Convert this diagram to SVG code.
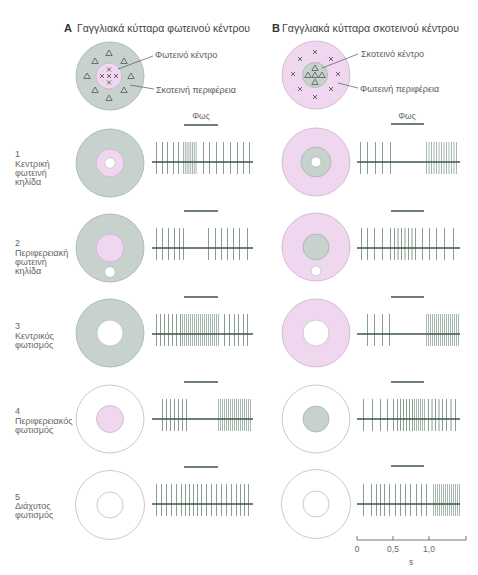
<svg xmlns="http://www.w3.org/2000/svg" width="478" height="575" viewBox="0 0 478 575">
<style>
text{font-family:"Liberation Sans",Arial,sans-serif;fill:#555}
.hd{font-size:10.5px;fill:#444}
.hb{font-size:11px;font-weight:bold;fill:#333}
.lb{font-size:9px;fill:#5a5a5a}
.rl{font-size:9px;fill:#666}
.sm{font-size:8.5px;fill:#666}
.gr{fill:#c6d2cb;stroke:#a4b4aa;stroke-width:0.8}
.pk{fill:#efd8ef;stroke:#cdb0cb;stroke-width:0.8}
.wh{fill:#fff;stroke:#a9b6ae;stroke-width:0.6}
.ol{fill:none;stroke:#cbbfc9;stroke-width:0.9}
.sp{fill:none;stroke:#7b9385;stroke-width:0.9}
.dn{fill:none;stroke:#8ea497;stroke-width:0.8}
.bl{fill:none;stroke:#3e5649;stroke-width:1.6}
.lt{fill:none;stroke:#3e5649;stroke-width:1.6}
.tri{fill:none;stroke:#555;stroke-width:0.8}
.xm{fill:none;stroke:#444;stroke-width:0.8}
.ld{fill:none;stroke:#555;stroke-width:0.7}
.sc{fill:none;stroke:#555;stroke-width:0.8}
</style>
<defs>
<polygon id="tr" points="0,-3 3.2,2.5 -3.2,2.5" class="tri"/>
<path id="xm" d="M-2,-2L2,2M2,-2L-2,2" class="xm"/>
</defs>

<g id="header-a"><text class="hb" x="64" y="31.5">A</text><text class="hd" x="77" y="31.5" textLength="173" lengthAdjust="spacingAndGlyphs">Γαγγλιακά κύτταρα φωτεινού κέντρου</text></g>
<g id="header-b"><text class="hb" x="272" y="31.5">B</text><text class="hd" x="282" y="31.5" textLength="177" lengthAdjust="spacingAndGlyphs">Γαγγλιακά κύτταρα σκοτεινού κέντρου</text></g>

<g id="rf-a">
<circle class="gr" cx="110" cy="76" r="34"/>
<circle class="pk" cx="109" cy="76" r="13"/>
<use href="#tr" x="109" y="53"/><use href="#tr" x="95" y="61"/><use href="#tr" x="124" y="61"/><use href="#tr" x="87" y="76"/><use href="#tr" x="131" y="76"/><use href="#tr" x="95" y="90"/><use href="#tr" x="124" y="90"/><use href="#tr" x="109" y="98"/>
<use href="#xm" x="109" y="69.5"/><use href="#xm" x="102" y="76"/><use href="#xm" x="109" y="76"/><use href="#xm" x="116" y="76"/><use href="#xm" x="109" y="82.5"/>
</g>
<g id="label-a1"><text class="lb" x="155" y="58">Φωτεινό κέντρο</text></g>
<g id="label-a2"><text class="lb" x="156" y="93">Σκοτεινή περιφέρεια</text></g>

<g id="rf-b">
<circle class="pk" cx="316" cy="75" r="34"/>
<circle class="gr" cx="315" cy="75" r="12.5"/>
<use href="#tr" x="315" y="68"/><use href="#tr" x="308" y="75"/><use href="#tr" x="315" y="75"/><use href="#tr" x="322" y="75"/><use href="#tr" x="315" y="82"/>
<use href="#xm" x="315" y="52"/><use href="#xm" x="300" y="59"/><use href="#xm" x="331" y="59"/><use href="#xm" x="293" y="74"/><use href="#xm" x="338" y="74"/><use href="#xm" x="300" y="89"/><use href="#xm" x="331" y="89"/><use href="#xm" x="315" y="97"/>
</g>
<g id="label-b1"><text class="lb" x="361" y="57">Σκοτεινό κέντρο</text></g>
<g id="label-b2"><text class="lb" x="360" y="92">Φωτεινή περιφέρεια</text></g>

<g id="connectors">
<path class="ld" d="M118 69 L153 56"/>
<path class="ld" d="M130 85 L154 89"/>
<path class="ld" d="M322 68 L358 54"/>
<path class="ld" d="M338 83 L358 88"/>
</g>

<g id="light-labels"><text class="sm" x="201" y="119" text-anchor="middle">Φως</text><text class="sm" x="407" y="119" text-anchor="middle">Φως</text></g>

<g id="row-labels">
<text class="rl" x="15" y="157">1</text><text class="rl" x="15" y="167">Κεντρική</text><text class="rl" x="15" y="176">φωτεινή</text><text class="rl" x="15" y="185">κηλίδα</text>
<text class="rl" x="15" y="246">2</text><text class="rl" x="15" y="256">Περιφερειακή</text><text class="rl" x="15" y="265">φωτεινή</text><text class="rl" x="15" y="274">κηλίδα</text>
<text class="rl" x="15" y="329">3</text><text class="rl" x="15" y="339">Κεντρικός</text><text class="rl" x="15" y="348">φωτισμός</text>
<text class="rl" x="15" y="414">4</text><text class="rl" x="15" y="424">Περιφερειακός</text><text class="rl" x="15" y="433">φωτισμός</text>
<text class="rl" x="15" y="500">5</text><text class="rl" x="15" y="509">Διάχυτος</text><text class="rl" x="15" y="518">φωτισμός</text>
</g>

<!-- Row 1 -->
<g id="row1-a">
<circle class="gr" cx="110" cy="163" r="34"/><circle class="pk" cx="110" cy="163" r="14"/><circle class="wh" cx="110" cy="163" r="5.3"/>
<path class="lt" d="M184 125H218"/>
<path class="sp" d="M156.5 142v32M162.5 142v32M167.5 142v32M173.5 142v32M178.5 142v32M203.5 142v32M209.5 142v32M216.5 142v32M223.5 142v32M230.5 142v32M237.5 142v32M243.5 142v32M249.5 142v32"/>
<path class="dn" d="M183.5 142v32M185.3 142v32M187.1 142v32M188.9 142v32M190.7 142v32M192.5 142v32M194.3 142v32M196.1 142v32"/>
<path class="bl" d="M152 162H253"/>
</g>
<g id="row1-b">
<circle class="pk" cx="316" cy="162" r="34"/><circle class="gr" cx="316" cy="162" r="15"/><circle class="wh" cx="316" cy="162" r="5"/>
<path class="lt" d="M391 124H424"/>
<path class="sp" d="M360.5 142v32M367.5 142v32M375.5 142v32M382.5 142v32M390.5 142v32"/>
<path class="dn" d="M426.5 142v32M429 142v32M431.5 142v32M434 142v32M436.5 142v32M439 142v32M441.5 142v32M444 142v32M446.5 142v32M449 142v32M451.5 142v32M454 142v32M456.5 142v32"/>
<path class="bl" d="M357 162H460"/>
</g>

<!-- Row 2 -->
<g id="row2-a">
<circle class="gr" cx="110" cy="248" r="34"/><circle class="pk" cx="110" cy="248" r="14"/><circle class="wh" cx="110" cy="272" r="5.3"/>
<path class="lt" d="M184 211H218"/>
<path class="sp" d="M156.5 228v32M162.5 228v32M168.5 228v32M174.5 228v32M179.5 228v32M183.5 228v32M208.5 228v32M215.5 228v32M221.5 228v32M227.5 228v32M233.5 228v32M239.5 228v32M247.5 228v32"/>
<path class="bl" d="M152 248H253"/>
</g>
<g id="row2-b">
<circle class="pk" cx="316" cy="247" r="34"/><circle class="gr" cx="316" cy="247" r="13"/><circle class="wh" cx="316" cy="271" r="5"/>
<path class="lt" d="M391 211H424"/>
<path class="sp" d="M361.5 228v32M367.5 228v32M374.5 228v32M382.5 228v32M390.5 228v32M394.5 228v32M398 228v32M401.5 228v32M405 228v32M408.5 228v32M412 228v32M415.5 228v32M422.5 228v32M429.5 228v32M436.5 228v32M444.5 228v32M453.5 228v32"/>
<path class="bl" d="M357 248H460"/>
</g>

<!-- Row 3 -->
<g id="row3-a">
<circle class="gr" cx="110" cy="333" r="34"/><circle class="wh" cx="110" cy="333" r="13"/>
<path class="lt" d="M184 297H218"/>
<path class="sp" d="M156.5 314v32M160.5 314v32M164.5 314v32M168.5 314v32M172.5 314v32M176.5 314v32M180.5 314v32M224.5 314v32M229.5 314v32M234.5 314v32M238.5 314v32M243.5 314v32M247.5 314v32"/>
<path class="dn" d="M182.5 314v32M184.5 314v32M186.5 314v32M188.5 314v32M190.5 314v32M192.5 314v32M194.5 314v32M196.5 314v32M198.5 314v32M200.5 314v32M202.5 314v32M204.5 314v32M206.5 314v32M208.5 314v32M210.5 314v32M212.5 314v32M214.5 314v32M216.5 314v32M218.5 314v32"/>
<path class="bl" d="M152 334H253"/>
</g>
<g id="row3-b">
<circle class="pk" cx="316" cy="333" r="34"/><circle class="wh" cx="316" cy="333" r="13"/>
<path class="lt" d="M391 297H424"/>
<path class="sp" d="M367.5 314v32M374.5 314v32M382.5 314v32M389.5 314v32"/>
<path class="dn" d="M426.5 314v32M428.5 314v32M430.5 314v32M432.5 314v32M434.5 314v32M436.5 314v32M438.5 314v32M440.5 314v32M442.5 314v32M444.5 314v32M446.5 314v32M448.5 314v32M450.5 314v32M452.5 314v32M454.5 314v32M456.5 314v32M458.5 314v32"/>
<path class="bl" d="M357 334H460"/>
</g>

<!-- Row 4 -->
<g id="row4-a">
<circle class="ol" cx="110" cy="419" r="34"/><circle class="pk" cx="110" cy="419" r="13.5"/>
<path class="lt" d="M184 382H218"/>
<path class="sp" d="M162.5 399v32M166.5 399v32M170.5 399v32M174.5 399v32M178.5 399v32M182.5 399v32M186.5 399v32"/>
<path class="dn" d="M218.5 399v32M220.5 399v32M222.5 399v32M224.5 399v32M226.5 399v32M228.5 399v32M230.5 399v32M232.5 399v32M234.5 399v32M236.5 399v32M238.5 399v32M240.5 399v32M242.5 399v32M244.5 399v32M246.5 399v32M248.5 399v32M250.5 399v32"/>
<path class="bl" d="M152 419H253"/>
</g>
<g id="row4-b">
<circle class="ol" cx="316" cy="419" r="34"/><circle class="gr" cx="316" cy="419" r="13"/>
<path class="lt" d="M391 382H424"/>
<path class="sp" d="M363.5 399v32M372.5 399v32M380.5 399v32M387.5 399v32M393.5 399v32M397.5 399v32M400.5 399v32M403.5 399v32M406.5 399v32M409.5 399v32M412.5 399v32M428.5 399v32M432 399v32M435.5 399v32M439 399v32M442.5 399v32M446.5 399v32M451 399v32M455.5 399v32"/>
<path class="dn" d="M414.5 399v32M416.5 399v32M418.5 399v32M420.5 399v32M422.5 399v32M424.5 399v32"/>
<path class="bl" d="M357 419H460"/>
</g>

<!-- Row 5 -->
<g id="row5-a">
<circle class="ol" cx="110" cy="505" r="34.5"/><circle class="ol" cx="110" cy="505" r="13"/>
<path class="lt" d="M184 467H218"/>
<path class="sp" d="M156.5 484v32M161.5 484v32M166.5 484v32M171.5 484v32M176.5 484v32M181.5 484v32M185.5 484v32M189.5 484v32M193.5 484v32M197.5 484v32M201.5 484v32M206.5 484v32M211.5 484v32M216.5 484v32M221.5 484v32M226.5 484v32M231.5 484v32M236.5 484v32M240.5 484v32M244.5 484v32M248.5 484v32"/>
<path class="bl" d="M152 504H253"/>
</g>
<g id="row5-b">
<circle class="ol" cx="316" cy="504" r="34.5"/><circle class="ol" cx="316" cy="504" r="13"/>
<path class="lt" d="M391 466H424"/>
<path class="sp" d="M363.5 484v32M371.5 484v32M376.5 484v32M380.5 484v32M384.5 484v32M389.5 484v32M395.5 484v32M400.5 484v32M405.5 484v32M410.5 484v32M416.5 484v32M421.5 484v32M426.5 484v32"/>
<path class="dn" d="M433.5 484v32M435.5 484v32M437.5 484v32M439.5 484v32M441.5 484v32M443.5 484v32M445.5 484v32M447.5 484v32M449.5 484v32M451.5 484v32M453.5 484v32M455.5 484v32M457.5 484v32M459.5 484v32"/>
<path class="bl" d="M357 504H460"/>
</g>

<g id="scale">
<path class="sc" d="M357 540H466M357 536V540M393 536V540M429 536V540M466 536V540"/>
<text class="sm" x="357" y="552" text-anchor="middle">0</text>
<text class="sm" x="393" y="552" text-anchor="middle">0,5</text>
<text class="sm" x="429" y="552" text-anchor="middle">1,0</text>
<text class="sm" x="411" y="565" text-anchor="middle">s</text>
</g>
</svg>
